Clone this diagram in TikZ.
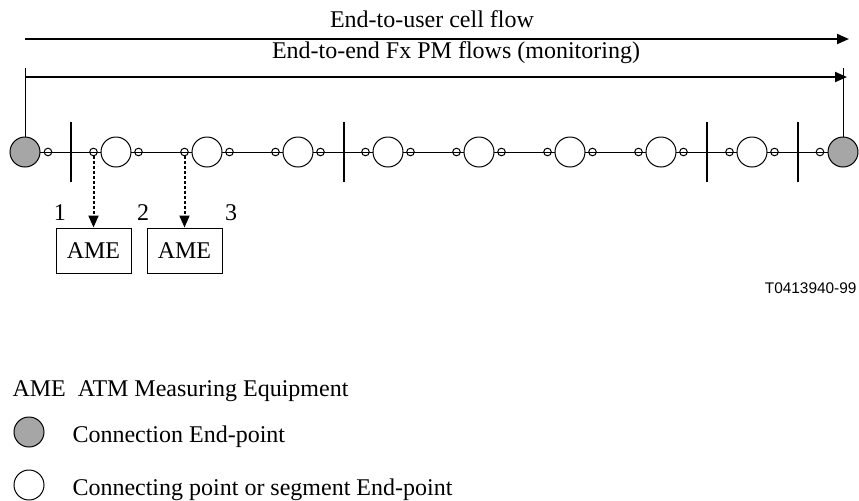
\documentclass[tikz,border=0pt]{standalone}
\usepackage{fontspec}
\setmainfont{Liberation Serif}
\newfontfamily\codefont{Liberation Sans}
\definecolor{cepgray}{HTML}{A6A6A6}
\usepackage{tikz}
\usetikzlibrary{arrows.meta,backgrounds}

\begin{document}
\begin{tikzpicture}[x=0.5pt,y=-0.5pt,line width=0.5pt,
  cep/.style={circle, draw, fill=cepgray, minimum size=15pt, inner sep=0pt},
  cpt/.style={circle, draw, fill=white, minimum size=15pt, inner sep=0pt},
  spt/.style={circle, draw, minimum size=3.8pt, inner sep=0pt},
  ame/.style={draw, minimum width=37.5pt, minimum height=22.5pt,
              font=\fontsize{12}{14}\selectfont},
  lbl/.style={font=\fontsize{12}{14}\selectfont, inner sep=0pt},
  flow/.style={-{Triangle[length=6pt,width=5pt]}, line width=1pt},
  tap/.style={-{Triangle[length=6pt,width=5pt]}, line width=1pt,
              dash pattern=on 1.5pt off 1pt},
  bar/.style={line width=1pt}
]
  \useasboundingbox (0,0) rectangle (859,500);

  %% Flows on top
  \coordinate (uflowA) at (25,39);  \coordinate (uflowB) at (849,39);
  \coordinate (pmA)    at (25,77);  \coordinate (pmB)    at (847,77);
  \coordinate (pmtopL) at (25,68);  \coordinate (pmtopR) at (843,68);
  \node[lbl, anchor=base] (uflowtxt) at (432,27) {End-to-user cell flow};
  \node[lbl, anchor=base] (pmtxt)    at (456,58) {End-to-end Fx PM flows (monitoring)};
  \draw[flow] (uflowA) -- (uflowB);
  \draw[flow] (pmA) -- (pmB);

  %% Connection chain
  \node[cep] (cepL) at (25,152)  {};
  \node[cep] (cepR) at (843,152) {};
  \node[spt] (spL)  at (48,152)  {};
  \node[spt] (spR)  at (820,152) {};
  \foreach \i/\x in {1/116,2/207,3/298,4/388,5/479,6/570,7/661,8/752} {
    \node[cpt] (cp\i) at (\x,152) {};
    \node[spt] (sl\i) at (\x-22.5,152) {};
    \node[spt] (sr\i) at (\x+22.5,152) {};
  }
  \begin{scope}[on background layer]
    \draw (cepL.center) -- (cepR.center);
  \end{scope}
  \draw (pmtopL) -- (cepL);
  \draw (pmtopR) -- (cepR);
  \foreach \x in {71,344,707,798}
    \draw[bar] (\x,122) -- (\x,182);

  %% Measuring equipment
  \node[ame] (ame1) at (93.5,250.5)  {AME};
  \node[ame] (ame2) at (184.5,250.5) {AME};
  \draw[tap] (sl1) -- (ame1);
  \draw[tap] (sl2) -- (ame2);
  \node[lbl, anchor=base] (pt1) at (60,220)  {1};
  \node[lbl, anchor=base] (pt2) at (143,220) {2};
  \node[lbl, anchor=base] (pt3) at (231,220) {3};

  \node[anchor=base east, inner sep=0pt, font=\codefont\fontsize{7.7}{9}\selectfont]
    (figid) at (857,293) {T0413940-99};

  %% Legend
  \node[lbl, anchor=base west] (legame) at (12,396) {AME\ \ ATM Measuring Equipment};
  \node[cep] (legcep) at (29,432) {};
  \node[lbl, anchor=base west] (legceptxt) at (72,442) {Connection End-point};
  \node[cpt] (legcpt) at (29,485) {};
  \node[lbl, anchor=base west] (legcpttxt) at (72,495) {Connecting point or segment End-point};
\end{tikzpicture}
\end{document}
